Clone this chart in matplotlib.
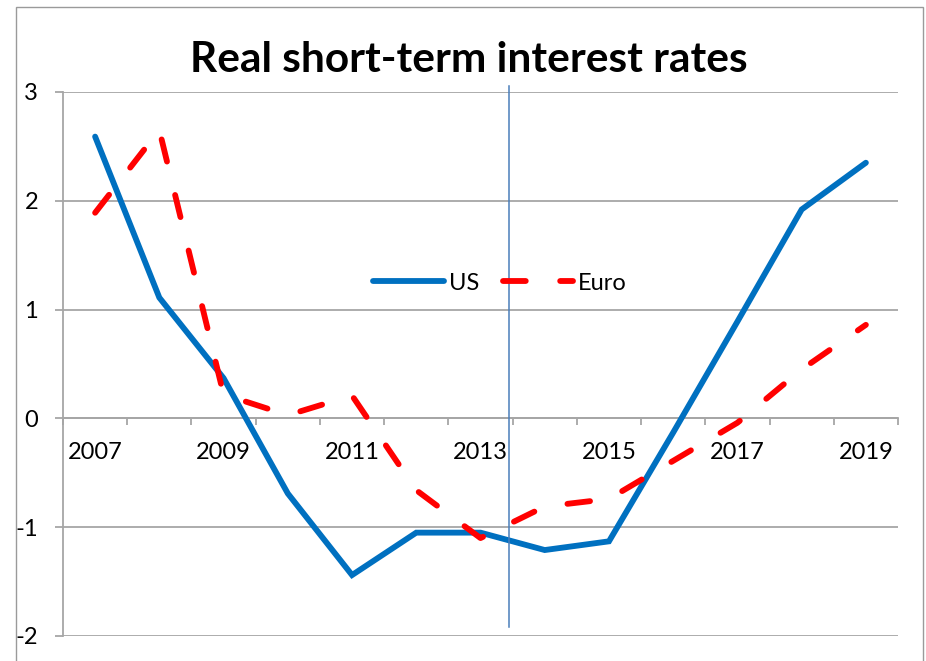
import numpy as np
import matplotlib.pyplot as plt
from matplotlib.patches import Rectangle

plt.rcParams['font.family'] = ['Lato', 'DejaVu Sans']
plt.rcParams['axes.unicode_minus'] = False

years = list(range(2007, 2020))
us = [2.59, 1.11, 0.37, -0.69, -1.44, -1.05, -1.05, -1.21, -1.13, -0.13, 0.89, 1.92, 2.35]
euro = [1.89, 2.65, 0.22, 0.03, 0.21, -0.66, -1.1, -0.81, -0.74, -0.39, -0.04, 0.45, 0.86]
marker_year = 2013.44  # vertical marker line

W, H = 926, 661
fig = plt.figure(figsize=(W / 100, H / 100), dpi=100)
ax = fig.add_axes([63 / W, 1 - 636 / H, 835 / W, 544 / H])

grey = '#a6a6a6'

# chart border
fig.patches.append(Rectangle((16 / W, -0.05), 907 / W, 1.05 - 7 / H,
                             transform=fig.transFigure, fill=False,
                             edgecolor='#9a9a9a', linewidth=1.0))

ax.plot(years, us, color='#0070c0', linewidth=4.2, solid_joinstyle='miter',
        solid_capstyle='round', label='US', zorder=3)
ax.plot(years, euro, color='#ff0000', linewidth=4.2, dashes=(3.9, 5.9),
        dash_capstyle='round', label='Euro', zorder=3)

ax.plot([marker_year, marker_year], [3.055, -1.917], color='#4a7ebb',
        linewidth=1.1, clip_on=False, zorder=4)

ax.set_xlim(2006.5, 2019.5)
ax.set_ylim(-2, 3)

for s in ['top', 'right']:
    ax.spines[s].set_visible(False)
ax.spines['bottom'].set_position(('data', 0))
for s in ['left', 'bottom']:
    ax.spines[s].set_color(grey)
    ax.spines[s].set_linewidth(1.3)

ax.set_yticks(range(-2, 4))
ax.yaxis.grid(True, color=grey, linewidth=1.3)
ax.set_axisbelow(True)
ax.tick_params(axis='y', direction='out', length=6, width=1.3, color=grey,
               pad=12, labelsize=17)

ax.set_xticks(np.arange(2006.5, 2020, 1))
ax.set_xticklabels([])
ax.set_xticks(years[::2], minor=True)
ax.set_xticklabels([str(y) for y in years[::2]], minor=True)
ax.tick_params(axis='x', which='major', direction='out', length=5, width=1.3, color=grey)
ax.tick_params(axis='x', which='minor', length=0, pad=17, labelsize=17)

fig.text(468.5 / W, 1 - 72 / H, 'Real short-term interest rates',
         ha='center', va='baseline', fontsize=30.5, fontweight='bold')

ax.legend(ncol=2, loc='center', bbox_to_anchor=(500 / W, 1 - 283 / H),
          bbox_transform=fig.transFigure, frameon=False, fontsize=17,
          handlelength=3.0, handletextpad=0.2, columnspacing=1.0, borderpad=0)

fig.savefig('out.png', dpi=100)
